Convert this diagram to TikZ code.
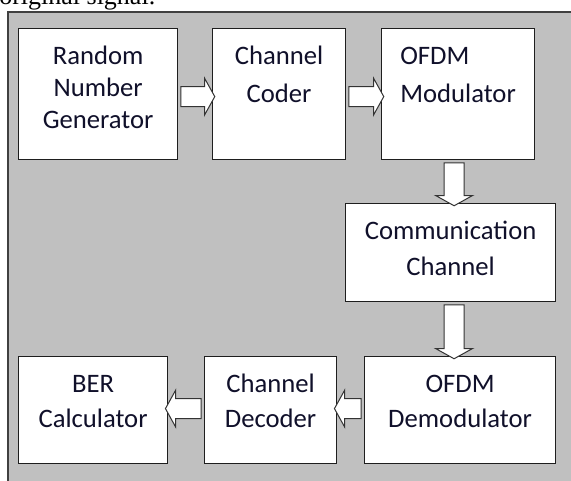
\documentclass[tikz,border=0pt]{standalone}
\usepackage{fontspec}
\newfontfamily\boxfont{Carlito}
\newfontfamily\capfont{Liberation Serif}
\usetikzlibrary{shapes.arrows,calc}
\definecolor{panelgray}{HTML}{C0C0C0}
\definecolor{edgegray}{HTML}{404040}
\definecolor{boxedge}{HTML}{1E1E1E}
\definecolor{arrowedge}{HTML}{333333}
\definecolor{inkblue}{HTML}{10102A}

\tikzset{
  block/.style n args={3}{draw=boxedge, fill=white, line width=0.9pt, inner sep=0pt, anchor=north west,
    minimum width=#1, text height=26.6pt, text depth=#2, text=inkblue,
    font=\boxfont\fontsize{20pt}{#3}\selectfont},
  hollow/.style={to path={let \p1=(\tikztostart), \p2=(\tikztotarget), \n1={veclen(\x2-\x1,\y2-\y1)} in
    (\tikztostart) -- (\tikztotarget) node[midway, sloped, allow upside down, single arrow, draw=arrowedge,
    fill=white, line width=0.75pt, inner xsep=0pt, inner ysep=7.1pt, minimum height=\n1, minimum width=27pt,
    single arrow head extend=6.4pt, single arrow tip angle=122] {}}}
}

\begin{document}
\begin{tikzpicture}[x=0.75pt, y=-0.75pt]
\useasboundingbox (0,0) rectangle (571,481);
\clip (0,0) rectangle (571,481);
\node[anchor=base west, inner sep=0pt, font=\capfont\fontsize{19.5pt}{24pt}\selectfont] (caption) at (-1,5) {original signal.};
% grey panel
\fill[panelgray] (8,12) rectangle (590,495);
\draw[edgegray, line width=0.9pt] (590,12) -- (8,12) -- (8,495);
% top row
\node[block={119.25pt}{71.6pt}{24pt}] (rng) at (18,28) {\begin{tabular}[t]{@{}c@{}}Random\\Number\\Generator\end{tabular}};
\node[block={99.75pt}{71.6pt}{28.5pt}] (coder) at (212,28) {\begin{tabular}[t]{@{}c@{}}Channel\\Coder\end{tabular}};
\node[block={114.75pt}{71.6pt}{28.5pt}] (mod) at (381,28) {\begin{tabular}[t]{@{}l@{}}OFDM\\Modulator\end{tabular}};
% channel
\node[block={157.5pt}{46.9pt}{27pt}] (chan) at (345,203) {\begin{tabular}[t]{@{}c@{}}Communication\\Channel\end{tabular}};
% bottom row
\node[block={143.25pt}{53.6pt}{26.6pt}] (demod) at (364,356) {\begin{tabular}[t]{@{}c@{}}OFDM\\Demodulator\end{tabular}};
\node[block={99pt}{53.6pt}{26.6pt}] (dec) at (204,356) {\begin{tabular}[t]{@{}c@{}}Channel\\Decoder\end{tabular}};
\node[block={111.75pt}{53.6pt}{26.6pt}] (ber) at (18,356) {\begin{tabular}[t]{@{}c@{}}BER\\Calculator\end{tabular}};
% block arrows
\coordinate (dn1) at ([xshift=-3pt]mod.south);
\coordinate (dn2) at ([xshift=2.6pt]chan.south);
\path[hollow] ([yshift=-1.9pt]rng.east) to ([yshift=-1.9pt]coder.west);
\path[hollow] ([yshift=-1.9pt]coder.east) to ([yshift=-1.9pt]mod.west);
\path[hollow] (dn1) to (dn1 |- chan.north);
\path[hollow] (dn2) to (dn2 |- demod.north);
\path[hollow] ([yshift=1.1pt]demod.west) to ([yshift=1.1pt]dec.east);
\path[hollow] ([yshift=1.1pt]dec.west) to ([yshift=1.1pt]ber.east);
\end{tikzpicture}
\end{document}
